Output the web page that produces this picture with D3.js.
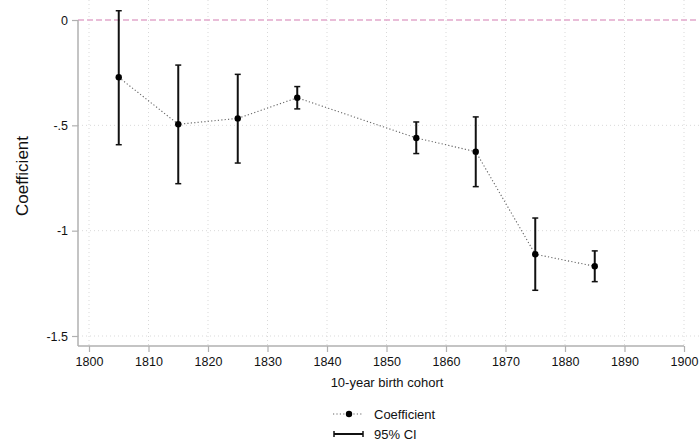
<!DOCTYPE html>
<html>
<head>
<meta charset="utf-8">
<script src="https://cdn.jsdelivr.net/npm/d3@7"></script>
<style>
  html, body { margin: 0; padding: 0; background: #fff; }
  svg { display: block; font-family: "Liberation Sans", Arial, Helvetica, sans-serif; }
</style>
</head>
<body>
<svg id="chart" width="699" height="444"></svg>
<script>
// Birth-cohort coefficients with 95% confidence intervals
const cohorts = [1805, 1815, 1825, 1835, 1855, 1865, 1875, 1885];
const coefficients = [-0.272, -0.495, -0.467, -0.369, -0.560, -0.625, -1.112, -1.169];
const ciLower = [-0.592, -0.777, -0.679, -0.422, -0.634, -0.791, -1.283, -1.242];
const ciUpper = [0.044, -0.214, -0.258, -0.316, -0.484, -0.460, -0.940, -1.096];
const xTicks = [1800, 1810, 1820, 1830, 1840, 1850, 1860, 1870, 1880, 1890, 1900];
const yTicks = [0, -0.5, -1, -1.5];
const yTickLabels = ["0", "-.5", "-1", "-1.5"];

const svg = d3.select("#chart");
const W = 699, H = 444;
const axisLeft = 78, axisBottom = 346;

const x = d3.scaleLinear().domain([1800, 1900]).range([89, 684]);
const y = d3.scaleLinear().domain([0, -1.5]).range([20, 336]);

const gridColor = "#d9d9d9";
const axisColor = "#b0b0b0";

// vertical grid
svg.append("g").selectAll("line").data(xTicks).join("line")
  .attr("x1", d => x(d)).attr("x2", d => x(d))
  .attr("y1", 0).attr("y2", axisBottom)
  .attr("stroke", gridColor).attr("stroke-width", 1)
  .attr("stroke-dasharray", "1,3");

// horizontal grid
svg.append("g").selectAll("line").data(yTicks.slice(1)).join("line")
  .attr("x1", axisLeft).attr("x2", W)
  .attr("y1", d => y(d)).attr("y2", d => y(d))
  .attr("stroke", gridColor).attr("stroke-width", 1)
  .attr("stroke-dasharray", "1,3");

// reference line at zero
svg.append("line")
  .attr("x1", axisLeft).attr("x2", W)
  .attr("y1", y(0)).attr("y2", y(0))
  .attr("stroke", "#e2a8cb").attr("stroke-width", 1.5)
  .attr("stroke-dasharray", "6,3");

// y axis
const yAxis = d3.axisLeft(y).tickValues(yTicks)
  .tickFormat((d, i) => yTickLabels[i]).tickSize(6).tickPadding(4);
const gy = svg.append("g").attr("transform", `translate(${axisLeft},0)`).call(yAxis);
gy.select(".domain").remove();
gy.append("line").attr("x1", 0).attr("x2", 0)
  .attr("y1", y(0)).attr("y2", axisBottom)
  .attr("stroke", axisColor).attr("stroke-width", 1.5);
gy.selectAll(".tick line").attr("stroke", axisColor).attr("stroke-width", 1.2);
gy.selectAll(".tick text").attr("fill", "#111").style("font-size", "12.5px");

// x axis
const xAxis = d3.axisBottom(x).tickValues(xTicks).tickFormat(d3.format("d"))
  .tickSize(6).tickPadding(5.5);
const gx = svg.append("g").attr("transform", `translate(0,${axisBottom})`).call(xAxis);
gx.select(".domain").remove();
gx.append("line").attr("x1", axisLeft).attr("x2", x(1900))
  .attr("y1", 0).attr("y2", 0)
  .attr("stroke", axisColor).attr("stroke-width", 1.5);
gx.selectAll(".tick line").attr("stroke", axisColor).attr("stroke-width", 1.2);
gx.selectAll(".tick text").attr("fill", "#111").style("font-size", "12.5px");

// axis titles
svg.append("text")
  .attr("x", (axisLeft + x(1900)) / 2 + 6).attr("y", 387)
  .attr("text-anchor", "middle").style("font-size", "13px").attr("fill", "#111")
  .text("10-year birth cohort");
svg.append("text")
  .attr("transform", "translate(28,176) rotate(-90)")
  .attr("text-anchor", "middle").style("font-size", "17px").attr("fill", "#111")
  .text("Coefficient");

const data = cohorts.map((c, i) => ({ c, b: coefficients[i], lo: ciLower[i], hi: ciUpper[i] }));

// connecting dotted line
svg.append("path").datum(data)
  .attr("d", d3.line().x(d => x(d.c)).y(d => y(d.b)))
  .attr("fill", "none").attr("stroke", "#666").attr("stroke-width", 1.1)
  .attr("stroke-dasharray", "1.2,2.2");

// confidence intervals
const cap = 3;
const ci = svg.append("g").attr("stroke", "#111").attr("stroke-width", 2);
ci.selectAll("line.v").data(data).join("line").attr("class", "v")
  .attr("x1", d => x(d.c)).attr("x2", d => x(d.c))
  .attr("y1", d => y(d.hi)).attr("y2", d => y(d.lo));
ci.selectAll("line.t").data(data).join("line").attr("class", "t")
  .attr("x1", d => x(d.c) - cap).attr("x2", d => x(d.c) + cap)
  .attr("y1", d => y(d.hi)).attr("y2", d => y(d.hi)).attr("stroke-width", 1.5);
ci.selectAll("line.b").data(data).join("line").attr("class", "b")
  .attr("x1", d => x(d.c) - cap).attr("x2", d => x(d.c) + cap)
  .attr("y1", d => y(d.lo)).attr("y2", d => y(d.lo)).attr("stroke-width", 1.5);

// point estimates
svg.append("g").selectAll("circle").data(data).join("circle")
  .attr("cx", d => x(d.c)).attr("cy", d => y(d.b)).attr("r", 3.2)
  .attr("fill", "#000");

// legend
const lg = svg.append("g");
lg.append("line").attr("x1", 333).attr("x2", 362).attr("y1", 414).attr("y2", 414)
  .attr("stroke", "#666").attr("stroke-width", 1.1).attr("stroke-dasharray", "1.2,2.2");
lg.append("circle").attr("cx", 349).attr("cy", 414).attr("r", 3.2).attr("fill", "#000");
lg.append("text").attr("x", 374).attr("y", 418.5).style("font-size", "13px").attr("fill", "#111")
  .text("Coefficient");
lg.append("line").attr("x1", 334).attr("x2", 363).attr("y1", 434).attr("y2", 434)
  .attr("stroke", "#111").attr("stroke-width", 2);
lg.append("line").attr("x1", 334).attr("x2", 334).attr("y1", 431).attr("y2", 437)
  .attr("stroke", "#111").attr("stroke-width", 1.5);
lg.append("line").attr("x1", 363).attr("x2", 363).attr("y1", 431).attr("y2", 437)
  .attr("stroke", "#111").attr("stroke-width", 1.5);
lg.append("text").attr("x", 374).attr("y", 438.5).style("font-size", "13px").attr("fill", "#111")
  .text("95% CI");
</script>
</body>
</html>
